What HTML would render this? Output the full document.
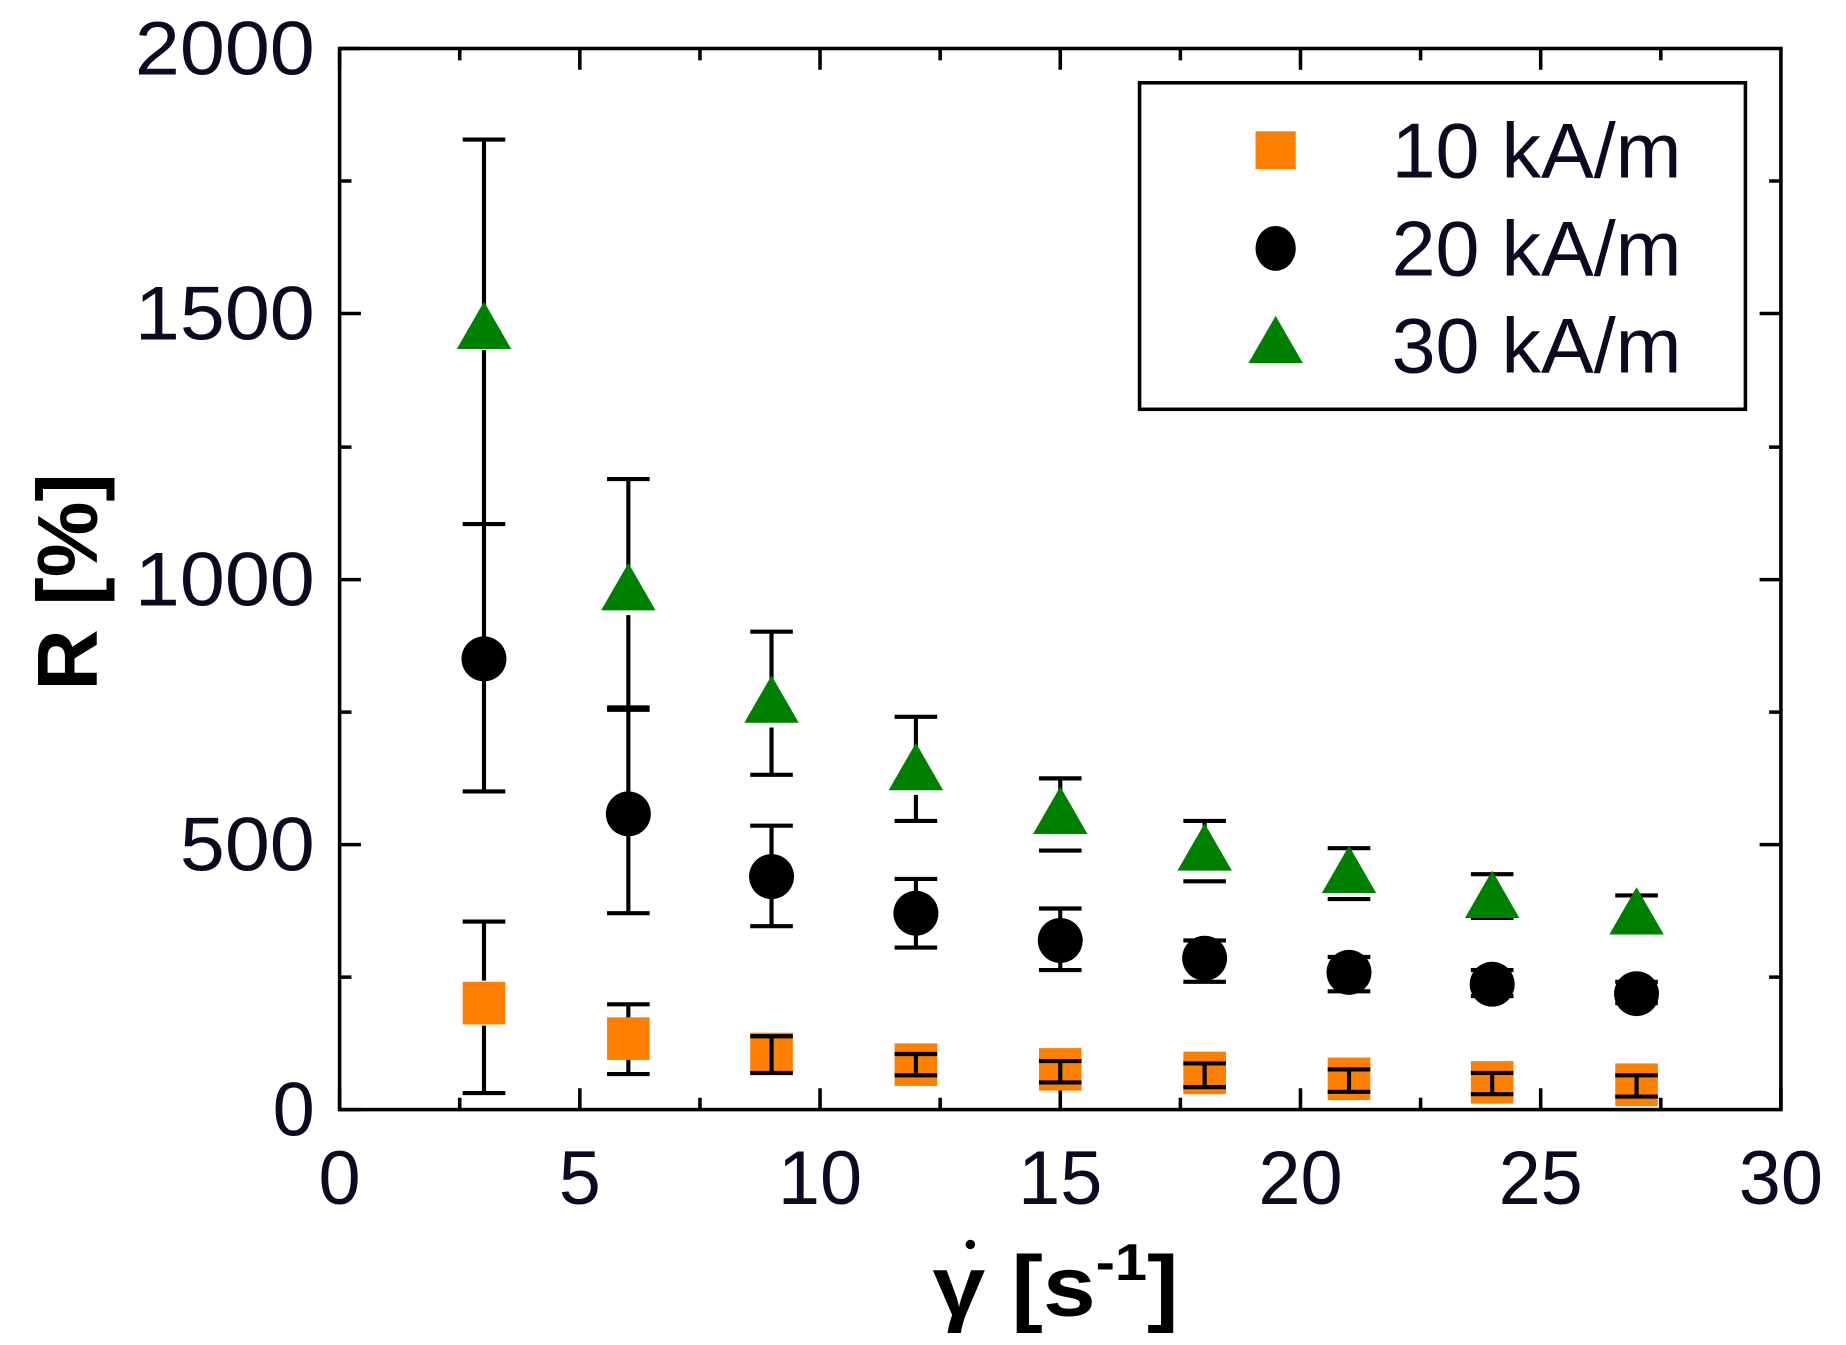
<!DOCTYPE html>
<html><head><meta charset="utf-8"><style>html,body{margin:0;padding:0;background:#fff;}svg{display:block}</style></head>
<body>
<svg width="1846" height="1345" viewBox="0 0 1560 1137" preserveAspectRatio="none" xmlns="http://www.w3.org/2000/svg" font-family="Liberation Sans, sans-serif">
<rect width="1560" height="1137" fill="#fff"/>
<g stroke="#000" stroke-width="3" fill="none">
<rect x="287" y="41" width="1218" height="897"/>
<path d="M287,938v-18M490,938v-18M693,938v-18M896,938v-18M1099,938v-18M1302,938v-18M1505,938v-18
M287,41v18M490,41v18M693,41v18M896,41v18M1099,41v18M1302,41v18
M388.5,938v-10M591.5,938v-10M794.5,938v-10M997.5,938v-10M1200.5,938v-10M1403.5,938v-10
M388.5,41v10M591.5,41v10M794.5,41v10M997.5,41v10M1200.5,41v10M1403.5,41v10
M287,938h18M287,714h18M287,490h18M287,265h18M287,41h18
M1505,714h-18M1505,490h-18M1505,265h-18
M287,826h10M287,602h10M287,378h10M287,153h10
M1505,826h-10M1505,602h-10M1505,378h-10M1505,153h-10"/>
</g>
<g font-size="64" fill="#0a0a20" text-anchor="end">
<text x="266" y="63" textLength="152" lengthAdjust="spacingAndGlyphs">2000</text><text x="266" y="287" textLength="152" lengthAdjust="spacingAndGlyphs">1500</text><text x="266" y="512" textLength="152" lengthAdjust="spacingAndGlyphs">1000</text><text x="266" y="736" textLength="114" lengthAdjust="spacingAndGlyphs">500</text><text x="266" y="960">0</text>
</g>
<g font-size="64" fill="#0a0a20" text-anchor="middle">
<text x="287" y="1018">0</text><text x="490" y="1018">5</text><text x="693" y="1018">10</text><text x="896" y="1018">15</text><text x="1099" y="1018">20</text><text x="1302" y="1018">25</text><text x="1505" y="1018">30</text>
</g>
<text transform="translate(82,492) rotate(-90)" font-size="72" font-weight="bold" text-anchor="middle" fill="#000">R [%]</text>
<text x="788" y="1112" font-size="72" font-weight="bold" fill="#000" textLength="208" lengthAdjust="spacingAndGlyphs">γ [s<tspan font-size="44" dy="-30">-1</tspan><tspan dy="30">]</tspan></text>
<circle cx="820" cy="1052" r="4" fill="#000"/>
<g fill="#ff8000">
<rect x="391" y="830" width="36" height="36"/><rect x="513" y="860" width="36" height="36"/><rect x="634" y="873" width="36" height="36"/><rect x="756" y="882" width="36" height="36"/><rect x="878" y="886" width="36" height="36"/><rect x="1000" y="889" width="36" height="36"/><rect x="1122" y="894" width="36" height="36"/><rect x="1243" y="897" width="36" height="36"/><rect x="1365" y="899" width="36" height="36"/>
</g>
<g stroke="#000" stroke-width="3.5" fill="none">
<path d="M409,118V265M391,118h36M391,443h36M409,296V443
M531,405V480M513,405h36M531,520V598M513,598h36
M652,534V575M634,534h36M652,615V655M634,655h36
M774,606V632M756,606h36M774,672V694M756,694h36
M896,658V669M878,658h36M878,719h36
M1018,694V700M1000,694h36M1000,745h36
M1140,717V720M1122,717h36M1122,760h36
M1243,739h36M1243,776h36
M1365,757h36M1365,786h36
M409,443V669M391,669h36
M531,600V772M513,600h36M513,772h36
M652,698V783M634,698h36M634,783h36
M774,743V801M756,743h36M756,801h36
M896,768V820M878,768h36M878,820h36
M1018,795V830M1000,795h36M1000,830h36
M1140,809V838M1122,809h36M1122,838h36
M1261,820V842M1243,820h36M1243,842h36
M1383,830V848M1365,830h36M1365,848h36
M409,779V829M391,779h36M391,924h36M409,867V924
M531,849V860M513,849h36M513,908h36M531,896V908
M652,876V907M634,876h36M634,907h36
M774,891V909M756,891h36M756,909h36
M896,897V915M878,897h36M878,915h36
M1018,899V919M1000,899h36M1000,919h36
M1140,904V923M1122,904h36M1122,923h36
M1261,907V925M1243,907h36M1243,925h36
M1383,909V927M1365,909h36M1365,927h36"/>
</g>
<g fill="#000">
<circle cx="409" cy="557" r="19"/><circle cx="531" cy="688" r="19"/><circle cx="652" cy="741" r="19"/><circle cx="774" cy="772" r="19"/><circle cx="896" cy="795" r="19"/><circle cx="1018" cy="810" r="19"/><circle cx="1140" cy="822" r="19"/><circle cx="1261" cy="832" r="19"/><circle cx="1383" cy="840" r="19"/>
</g>
<g fill="#008000">
<path d="M409,255l23,40h-46z"/><path d="M531,476l23,40h-46z"/><path d="M652,571l23,40h-46z"/><path d="M774,628l23,40h-46z"/><path d="M896,665l23,40h-46z"/><path d="M1018,696l23,40h-46z"/><path d="M1140,715l23,40h-46z"/><path d="M1261,736l23,40h-46z"/><path d="M1383,750l23,40h-46z"/>
</g>
<rect x="963" y="70" width="512" height="276" fill="#fff" stroke="#000" stroke-width="3"/>
<rect x="1061" y="111" width="34" height="32" fill="#ff8000"/>
<ellipse cx="1078" cy="210" rx="17" ry="19" fill="#000"/>
<path d="M1078,267l23,40h-46z" fill="#008000"/>
<g font-size="66" fill="#0a0a20">
<text x="1176" y="150" textLength="245" lengthAdjust="spacingAndGlyphs">10 kA/m</text><text x="1176" y="233" textLength="245" lengthAdjust="spacingAndGlyphs">20 kA/m</text><text x="1176" y="315" textLength="245" lengthAdjust="spacingAndGlyphs">30 kA/m</text>
</g>
</svg>
</body></html>
